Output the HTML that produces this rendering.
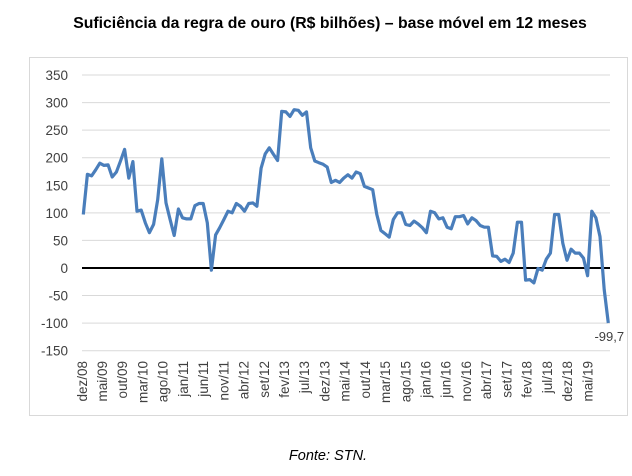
<!DOCTYPE html>
<html><head><meta charset="utf-8"><style>
body{margin:0;background:#fff;width:632px;height:471px;overflow:hidden;font-family:"Liberation Sans",sans-serif}
</style></head><body>
<svg width="632" height="471">
<text x="330" y="28" text-anchor="middle" font-size="15.8" font-weight="bold" fill="#000">Suficiência da regra de ouro (R$ bilhões) – base móvel em 12 meses</text>
<rect x="29.5" y="57.5" width="598" height="358" fill="#fff" stroke="#d9d9d9"/>
<g id="grid"></g><g id="yt"></g><g id="xt"></g>
<line id="zero" stroke="#000" stroke-width="2"/>
<path id="series" fill="none" stroke="#4a7ebb" stroke-width="3.2" stroke-linejoin="round"/>
<text id="lastlbl" font-size="13" fill="#404040" text-anchor="middle">-99,7</text>
<text x="328" y="460" text-anchor="middle" font-size="14.5" font-style="italic" fill="#000">Fonte: STN.</text>
</svg>
<script>
const yTicks=[350,300,250,200,150,100,50,0,-50,-100,-150];
const xLabels=["dez/08","mai/09","out/09","mar/10","ago/10","jan/11","jun/11","nov/11","abr/12","set/12","fev/13","jul/13","dez/13","mai/14","out/14","mar/15","ago/15","jan/16","jun/16","nov/16","abr/17","set/17","fev/18","jul/18","dez/18","mai/19"];
const values=[97,170,167,178,190,186,187,165,174,194,215,163,193,103,105,82,64,79,124,198,118,88,59,107,91,89,89,113,117,117,82,-4,60,73,88,103,100,117,112,103,117,118,112,181,207,218,206,195,284,283,275,287,286,277,283,218,194,191,188,183,155,159,155,163,169,163,174,171,148,145,142,97,68,62,56,88,100,100,79,77,85,80,73,64,103,100,89,91,74,71,93,93,95,80,91,86,77,74,74,22,21,12,16,10,27,83,83,-22,-21,-27,-1,-4,16,27,97,97,45,14,34,27,27,18,-14,103,91,57,-39,-99.7];
const NS='http://www.w3.org/2000/svg';
const x0=83.3,x1=608.3,yTop=75,yBot=350.7,vTop=350,vBot=-150;
function X(i){return x0+(x1-x0)*i/(values.length-1);}
function Y(v){return yTop+(vTop-v)*(yBot-yTop)/(vTop-vBot);}
const g=document.getElementById('grid'),yt=document.getElementById('yt'),xt=document.getElementById('xt');
yTicks.forEach(t=>{
 const l=document.createElementNS(NS,'line');
 l.setAttribute('x1',82);l.setAttribute('x2',610);l.setAttribute('y1',Y(t));l.setAttribute('y2',Y(t));
 l.setAttribute('stroke','#d9d9d9');
 
 
 g.appendChild(l);
 const tx=document.createElementNS(NS,'text');
 tx.setAttribute('x',68);tx.setAttribute('y',Y(t)+5);tx.setAttribute('text-anchor','end');
 tx.setAttribute('font-size','13.5');tx.setAttribute('fill','#404040');tx.textContent=t;
 
 
 yt.appendChild(tx);
});
xLabels.forEach((s,k)=>{
 const x=X(k*5)-1-k*0.45;
 const tx=document.createElementNS(NS,'text');
 tx.setAttribute('transform','translate('+(x+4.5)+',361) rotate(-90)');
 tx.setAttribute('text-anchor','end');tx.setAttribute('font-size','13.5');tx.setAttribute('fill','#404040');
 tx.textContent=s;
 
 
 xt.appendChild(tx);
});
const z=document.getElementById('zero');
z.setAttribute('x1',82);z.setAttribute('x2',610);z.setAttribute('y1',Y(0));z.setAttribute('y2',Y(0));
document.getElementById('series').setAttribute('d',values.map((v,i)=>(i?'L':'M')+X(i).toFixed(1)+' '+Y(v).toFixed(1)).join(''));
const ll=document.getElementById('lastlbl');
ll.setAttribute('x',X(values.length-1)+1);ll.setAttribute('y',Y(values[values.length-1])+18);
</script>
</body></html>
